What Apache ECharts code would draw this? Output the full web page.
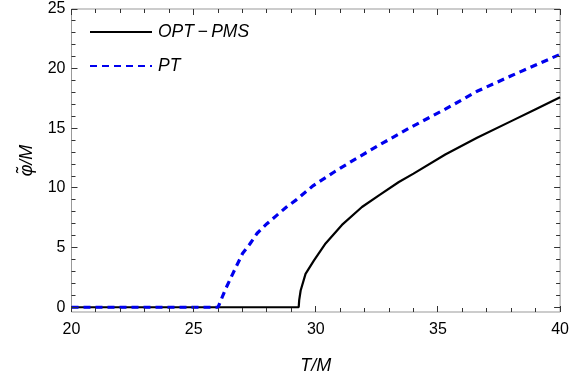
<!DOCTYPE html>
<html>
<head>
<meta charset="utf-8">
<script src="https://cdn.jsdelivr.net/npm/echarts@6/dist/echarts.min.js"></script>
<style>
  html, body { margin: 0; padding: 0; background: #fff; }
  #chart { width: 572px; height: 383px; }
</style>
</head>
<body>
<div id="chart"></div>
<script>
// values
const ptT = [20, 26.0, 26.3, 26.6, 27.0, 27.3, 27.6, 28.0, 28.4, 28.8, 29.2, 29.9, 30.8, 31.6, 32.6, 33.9, 35.3, 36.6, 38.0, 39.0, 40];
const ptPhi = [0, 0, 1.5, 2.8, 4.5, 5.3, 6.2, 7.0, 7.7, 8.4, 9.0, 10.2, 11.4, 12.4, 13.6, 15.1, 16.6, 18.1, 19.4, 20.3, 21.2];

const optT = [20, 29.3, 29.32, 29.38, 29.58, 29.92, 30.4, 31.07, 31.89, 32.6, 33.4, 34.0, 35.3, 36.6, 38.0, 39.0, 40];
const optPhi = [0, 0, 0.6, 1.4, 2.8, 3.9, 5.35, 6.9, 8.4, 9.4, 10.5, 11.2, 12.8, 14.2, 15.6, 16.6, 17.6];

const xTicks = [20, 25, 30, 35, 40];
const yTicks = [0, 5, 10, 15, 20, 25];
const xMinorTicks = [21, 22, 23, 24, 26, 27, 28, 29, 31, 32, 33, 34, 36, 37, 38, 39];
const yMinorTicks = [1, 2, 3, 4, 6, 7, 8, 9, 11, 12, 13, 14, 16, 17, 18, 19, 21, 22, 23, 24];

const X_MIN = 20, X_MAX = 40, Y_MIN = -0.4, Y_MAX = 25;

const pairs = (xs, ys) => xs.map((x, i) => [x, ys[i]]);

const frameColor = '#999';
const tickColor = '#333';
const font = 'Liberation Sans, Arial, sans-serif';
const OPT = 'OPT\u2009\u2212\u2009PMS';

// inward ticks: [side, value, length]; side 0 bottom, 1 top, 2 left, 3 right
const tickData = [];
[0, 1].forEach(s => {
  xTicks.forEach(v => tickData.push([s, v, 6]));
  xMinorTicks.forEach(v => tickData.push([s, v, 4]));
});
[2, 3].forEach(s => {
  yTicks.forEach(v => tickData.push([s, v, 6]));
  yMinorTicks.forEach(v => tickData.push([s, v, 4]));
});

// snap to the pixel grid so 1px lines stay crisp
const snap = (v) => Math.round(v - 0.5) + 0.5;

function renderTick(params, api) {
  const side = api.value(0), v = api.value(1), len = api.value(2);
  const style = { stroke: tickColor, lineWidth: 1 };
  let p, shape;
  if (side === 0) {
    p = api.coord([v, Y_MIN]);
    const x = snap(p[0]);
    shape = { x1: x, y1: p[1], x2: x, y2: p[1] - len };
  } else if (side === 1) {
    p = api.coord([v, Y_MAX]);
    const x = snap(p[0]);
    shape = { x1: x, y1: p[1], x2: x, y2: p[1] + len };
  } else if (side === 2) {
    p = api.coord([X_MIN, v]);
    const y = snap(p[1]);
    shape = { x1: p[0], y1: y, x2: p[0] + len, y2: y };
  } else {
    p = api.coord([X_MAX, v]);
    const y = snap(p[1]);
    shape = { x1: p[0], y1: y, x2: p[0] - len, y2: y };
  }
  return { type: 'line', shape: shape, style: style };
}

const chart = echarts.init(document.getElementById('chart'));

chart.setOption({
  animation: false,
  grid: { left: 71.5, right: 9.5, top: 9, bottom: 71, show: true, borderColor: frameColor, borderWidth: 1, backgroundColor: 'transparent' },
  legend: {
    orient: 'vertical',
    left: 84,
    top: 18,
    itemWidth: 62,
    itemHeight: 14,
    itemGap: 16,
    itemStyle: { opacity: 0 },
    textStyle: { fontFamily: font, fontSize: 17.5, fontStyle: 'italic', color: '#000', padding: [0, 0, 0, 1] },
    data: [OPT, 'PT']
  },
  xAxis: {
    type: 'value',
    min: X_MIN,
    max: X_MAX,
    interval: 5,
    axisLine: { show: false },
    axisTick: { show: false },
    splitLine: { show: false },
    name: 'T/M',
    nameLocation: 'middle',
    nameGap: 45,
    nameTextStyle: { fontFamily: font, fontSize: 18, fontStyle: 'italic', color: '#000', verticalAlign: 'top' },
    axisLabel: { margin: 10, fontFamily: font, fontSize: 16, color: '#000' }
  },
  yAxis: {
    type: 'value',
    min: Y_MIN,
    max: Y_MAX,
    axisLine: { show: false },
    axisTick: { show: false },
    splitLine: { show: false },
    name: '\u03C6\u0303/M',
    nameLocation: 'middle',
    nameGap: 36,
    nameTextStyle: { fontFamily: font, fontSize: 18, fontStyle: 'italic', color: '#000' },
    axisLabel: { margin: 6, fontFamily: font, fontSize: 16, color: '#000', customValues: yTicks }
  },
  series: [
    {
      name: OPT,
      type: 'line',
      data: pairs(optT, optPhi),
      showSymbol: false,
      symbol: 'none',
      lineStyle: { color: '#000', width: 2.2 },
      itemStyle: { color: '#000' },
      z: 3
    },
    {
      name: 'PT',
      type: 'line',
      data: pairs(ptT, ptPhi),
      showSymbol: false,
      symbol: 'none',
      lineStyle: { color: '#0000ee', width: 3.2, type: [7, 5] },
      itemStyle: { color: '#0000ee' },
      z: 4
    },
    {
      type: 'custom',
      renderItem: renderTick,
      data: tickData,
      clip: false,
      silent: true,
      z: 5
    }
  ]
});
</script>
</body>
</html>
